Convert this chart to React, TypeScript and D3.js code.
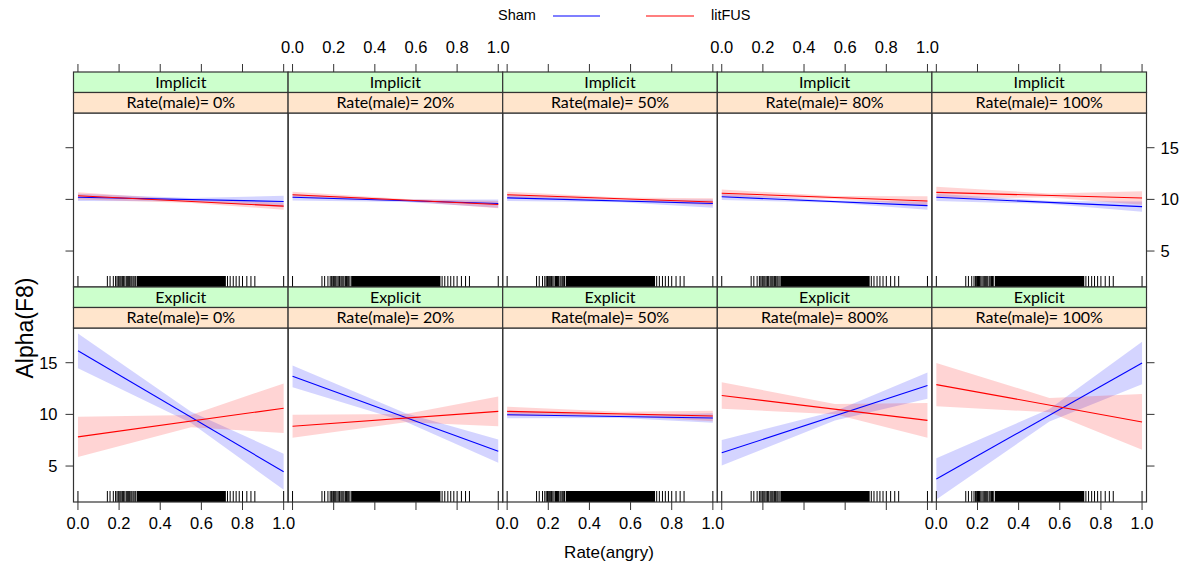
import * as d3 from "d3"

// facet levels
const taskLevels = ["Implicit", "Explicit"]
const maleLabelsImplicit = ["Rate(male)= 0%", "Rate(male)= 20%", "Rate(male)= 50%", "Rate(male)= 80%", "Rate(male)= 100%"]
const maleLabelsExplicit = ["Rate(male)= 0%", "Rate(male)= 20%", "Rate(male)= 50%", "Rate(male)= 800%", "Rate(male)= 100%"]

const xTicks = [0, 0.2, 0.4, 0.6, 0.8, 1.0]
const yTicks = [5, 10, 15]

// fitted values at Rate(angry)=0 and 1, per panel
const shamFitImplicit = [[10.2, 9.8], [10.2, 9.6], [10.15, 9.6], [10.25, 9.4], [10.2, 9.3]]
const litFitImplicit = [[10.35, 9.35], [10.45, 9.5], [10.45, 9.75], [10.6, 9.85], [10.68, 10.13]]
const shamFitExplicit = [[16.15, 4.45], [13.68, 6.44], [9.97, 9.65], [6.28, 12.79], [3.75, 14.97]]
const litFitExplicit = [[7.82, 10.6], [8.85, 10.29], [10.29, 9.84], [11.83, 9.42], [12.88, 9.27]]

// band half widths at bandX positions
const bandX = [0, 0.55, 1]
const shamHwImplicit = [[0.35, 0.15, 0.55], [0.3, 0.12, 0.4], [0.3, 0.12, 0.4], [0.3, 0.12, 0.4], [0.35, 0.15, 0.5]]
const litHwImplicit = [[0.35, 0.15, 0.35], [0.3, 0.12, 0.35], [0.3, 0.12, 0.35], [0.35, 0.15, 0.45], [0.55, 0.2, 0.65]]
const shamHwExplicit = [[1.68, 0.55, 1.75], [1.05, 0.4, 1.12], [0.35, 0.15, 0.45], [1.23, 0.45, 1.27], [2.0, 0.6, 2.05]]
const litHwExplicit = [[1.95, 0.6, 2.4], [1.12, 0.4, 1.44], [0.45, 0.2, 0.5], [1.28, 0.5, 1.68], [2.1, 0.7, 2.7]]

// rug of observed Rate(angry)
const rugValues = [0, 0.143, 0.156, 0.172, 0.183, 0.19, 0.196, 0.2, 0.205, 0.21, 0.216, 0.222, 0.228, 0.235,
  0.24, 0.245, 0.25, 0.257, 0.262, 0.268, 0.273, 0.279, 0.727, 0.74, 0.755, 0.769, 0.784, 0.8, 0.821, 0.841, 0.86, 1.0]
const rugDense = [0.285, 0.719]

const W = 1184
const H = 569
const left = 73.5
const panelW = 214.6
const top = 72
const stripH = 20.5
const panelH = 174
const nCols = 5

const SHAM = "#0000ff"
const LIT = "#ff0000"
const tickFont = "'Liberation Sans', Arial, sans-serif"
const stripFont = "Lato, 'Open Sans', sans-serif"
const tickSize = 16.5

const xBase = d3.scaleLinear().domain([-0.0216, 1.0216]).range([0, panelW])

function rowTop(r: number) {
  return top + r * (2 * stripH + panelH)
}

function Panel({ r, c }: { r: number; c: number }) {
  const x0 = left + c * panelW
  const pTop = rowTop(r) + 2 * stripH
  const pBot = pTop + panelH
  const x = xBase.copy().range([x0, x0 + panelW])
  const y = d3.scaleLinear().domain([1.52, 18.36]).range([pBot, pTop])

  const fits = r === 0 ? [shamFitImplicit, litFitImplicit] : [shamFitExplicit, litFitExplicit]
  const hws = r === 0 ? [shamHwImplicit, litHwImplicit] : [shamHwExplicit, litHwExplicit]
  const cols = [SHAM, LIT]
  const clipId = `clip-${r}-${c}`

  const line = d3.line<[number, number]>().x(d => x(d[0])).y(d => y(d[1]))
  const area = d3.area<{ x: number; lo: number; hi: number }>()
    .x(d => x(d.x)).y0(d => y(d.lo)).y1(d => y(d.hi))

  return (
    <g>
      <defs>
        <clipPath id={clipId}>
          <rect x={x0} y={pTop} width={panelW} height={panelH} />
        </clipPath>
      </defs>
      <g clipPath={`url(#${clipId})`}>
        {[0, 1].map(s => {
          const f = fits[s][c]
          const hw = hws[s][c]
          const band = bandX.map((bx, i) => {
            const m = f[0] + (f[1] - f[0]) * bx
            return { x: bx, lo: m - hw[i], hi: m + hw[i] }
          })
          return (
            <path key={"b" + s} d={area(band) || ""} fill={cols[s]} fillOpacity={0.17} stroke="none" />
          )
        })}
        {[0, 1].map(s => {
          const f = fits[s][c]
          return (
            <path key={"l" + s} d={line([[0, f[0]], [1, f[1]]]) || ""} fill="none" stroke={cols[s]} strokeWidth={1.1} />
          )
        })}
        <rect x={x(rugDense[0])} y={pBot - 11} width={x(rugDense[1]) - x(rugDense[0])} height={11} fill="#000" />
        {rugValues.map((v, i) => (
          <line key={i} x1={x(v)} x2={x(v)} y1={pBot} y2={pBot - 11} stroke="#000" strokeWidth={1} />
        ))}
      </g>
      <rect x={x0} y={pTop} width={panelW} height={panelH} fill="none" stroke="#333" strokeWidth={1.2} />

      {/* strips */}
      <rect x={x0} y={rowTop(r)} width={panelW} height={stripH} fill="#ccffcc" stroke="#333" strokeWidth={1.2} />
      <rect x={x0} y={rowTop(r) + stripH} width={panelW} height={stripH} fill="#ffe5cc" stroke="#333" strokeWidth={1.2} />
      <text x={x0 + panelW / 2} y={rowTop(r) + stripH / 2 + 5.5} textAnchor="middle" fontFamily={stripFont} fontSize={16} fill="#000">
        {taskLevels[r]}
      </text>
      <text x={x0 + panelW / 2} y={rowTop(r) + stripH * 1.5 + 5.5} textAnchor="middle" fontFamily={stripFont} fontSize={16} fill="#000">
        {(r === 0 ? maleLabelsImplicit : maleLabelsExplicit)[c]}
      </text>

      {/* x ticks: top on first row, bottom on last row */}
      {r === 0 && xTicks.map(t => (
        <g key={"tt" + t}>
          <line x1={x(t)} x2={x(t)} y1={top} y2={top - 8} stroke="#333" />
          {c % 2 === 1 && (
            <text x={x(t)} y={53} textAnchor="middle" fontFamily={tickFont} fontSize={tickSize} fill="#000">{t.toFixed(1)}</text>
          )}
        </g>
      ))}
      {r === 1 && xTicks.map(t => (
        <g key={"bt" + t}>
          <line x1={x(t)} x2={x(t)} y1={pBot} y2={pBot + 8} stroke="#333" />
          {c % 2 === 0 && (
            <text x={x(t)} y={529} textAnchor="middle" fontFamily={tickFont} fontSize={tickSize} fill="#000">{t.toFixed(1)}</text>
          )}
        </g>
      ))}

      {/* y ticks */}
      {c === 0 && yTicks.map(t => (
        <g key={"yl" + t}>
          <line x1={x0} x2={x0 - 8} y1={y(t)} y2={y(t)} stroke="#333" />
          {r === 1 && (
            <text x={x0 - 16} y={y(t) + 6} textAnchor="end" fontFamily={tickFont} fontSize={tickSize} fill="#000">{t}</text>
          )}
        </g>
      ))}
      {c === nCols - 1 && yTicks.map(t => (
        <g key={"yr" + t}>
          <line x1={x0 + panelW} x2={x0 + panelW + 8} y1={y(t)} y2={y(t)} stroke="#333" />
          {r === 0 && (
            <text x={x0 + panelW + 14} y={y(t) + 6} textAnchor="start" fontFamily={tickFont} fontSize={tickSize} fill="#000">{t}</text>
          )}
        </g>
      ))}
    </g>
  )
}

export default function App() {
  const cells: { r: number; c: number }[] = []
  for (let r = 0; r < 2; r++) for (let c = 0; c < nCols; c++) cells.push({ r, c })

  return (
    <svg width={W} height={H} style={{ position: "absolute", left: 0, top: 0, background: "#fff" }}>
      <rect width={W} height={H} fill="#fff" />
      {/* legend */}
      <text x={517} y={20} textAnchor="middle" fontFamily={tickFont} fontSize={14.5} fill="#000">Sham</text>
      <line x1={553} x2={600} y1={16} y2={16} stroke={SHAM} strokeWidth={1.2} />
      <line x1={646} x2={694} y1={16} y2={16} stroke={LIT} strokeWidth={1.2} />
      <text x={711} y={20} textAnchor="start" fontFamily={tickFont} fontSize={14.5} fill="#000">litFUS</text>

      {cells.map(d => <Panel key={`${d.r}-${d.c}`} r={d.r} c={d.c} />)}

      <text x={609} y={558} textAnchor="middle" fontFamily={tickFont} fontSize={17} fill="#000">Rate(angry)</text>
      <text transform="translate(33,328) rotate(-90)" textAnchor="middle" fontFamily={tickFont} fontSize={23} fill="#000">Alpha(F8)</text>
    </svg>
  )
}
